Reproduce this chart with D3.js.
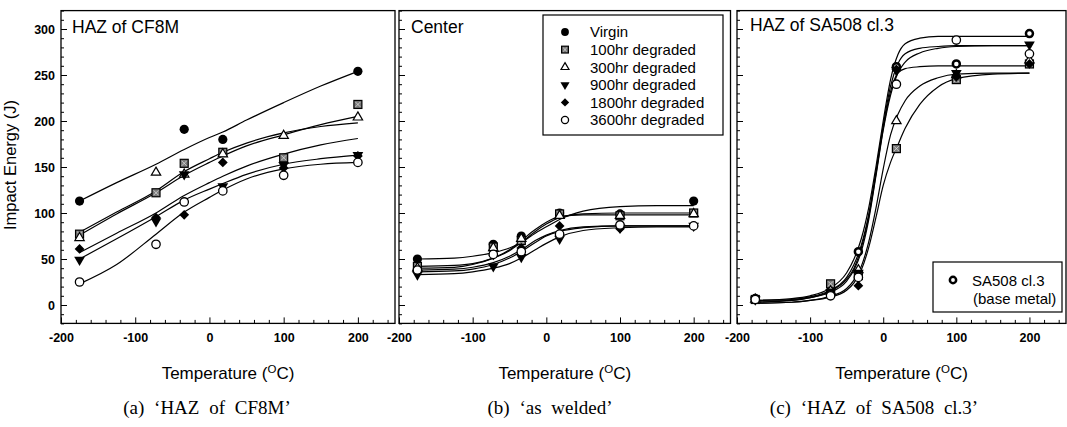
<!DOCTYPE html>
<html><head><meta charset="utf-8">
<script src="https://cdn.jsdelivr.net/npm/d3@7"></script>
<style>
body{margin:0;background:#fff;}
svg{display:block;}
text{font-family:"Liberation Sans",Arial,sans-serif;fill:#000;}
.cap{font-family:"Liberation Serif","Times New Roman",serif;}
</style>
</head><body>
<svg id="c" width="1067" height="427"></svg>
<script>
// ---------- data ----------
const seriesNames = ["Virgin","100hr degraded","300hr degraded","900hr degraded","1800hr degraded","3600hr degraded"];
const seriesMarkers = ["filledCircle","hatchSquare","openTriangle","filledDownTriangle","filledDiamond","openCircle"];
const baseMetalName = ["SA508 cl.3","(base metal)"];
const baseMarkers = ["dotCircle","hatchSquare","openTriangle","filledDownTriangle","filledDiamond","openCircle"];
const testTemps = [-175,-72,-34,18,100,200];
const xTicks = [-200,-100,0,100,200];
const yTicks = [0,50,100,150,200,250,300];
const panelTitles = ["HAZ of CF8M","Center","HAZ of SA508 cl.3"];
const captions = ["(a) \u2018HAZ of CF8M\u2019","(b) \u2018as welded\u2019","(c) \u2018HAZ of SA508 cl.3\u2019"];

// Panel (a) measured points (rows follow seriesNames)
const aPoints = [
  [113,null,191,180,null,254],
  [77,122,154,166,160,218],
  [73,144,142,164,184,204],
  [49,91,142,129,152,163],
  [61,95,98,155,149,162],
  [25,66,112,124,141,155]
];
// Panel (a) fitted curves
const aFitTemps = [-175,-125,-72,-34,0,18,50,100,150,200];
const aFits = [
  [113,133,153,169,182,188,201,220,238,254],
  [79,101,124,145,159,166,176,187,194,198],
  [76,99,122,141,155,162,173,185,196,205],
  [57,78,100,119,133,140,151,164,174,181],
  [50,72,96,114,126,132,142,153,159,163],
  [23,44,77,101,117,125,137,148,153,155]
];

// Panel (b)
const bPoints = [
  [50,66,75,100,99,113],
  [42,63,70,99,97,100],
  [40,62,72,97,97,99],
  [33,42,52,72,84,86],
  [36,54,62,86,83,86],
  [38,55,58,77,87,86]
];
const bFitTemps = [-175,-125,-100,-72,-50,-34,-15,0,18,50,100,150,200];
const bFits = [
  [50,51,53,57,62,68,78,85,93,102,107,108,108],
  [42,43,45,51,59,68,80,88,95,99,100,100,100],
  [40,41,44,51,60,70,82,90,96,98,98,98,98],
  [33,34,36,40,45,51,60,67,74,81,84,85,85],
  [38,39,41,46,53,60,70,76,81,85,86,86,86],
  [36,37,39,44,51,58,68,75,80,84,86,86,86]
];

// Panel (c)
const cPoints = [
  [7,15,58,259,262,295],
  [6,23,32,170,245,262],
  [6,15,38,200,250,266],
  [6,14,35,255,252,283],
  [6,13,21,256,248,262],
  [6,10,30,240,288,273]
];
const cFitTemps = [-175,-125,-100,-75,-50,-40,-30,-20,-10,0,10,20,30,50,75,100,150,200];
const cFits = [
  [5,7,10,17,35,50,72,105,150,200,245,272,284,290,292,292,292,292],
  [5,6,9,15,30,44,65,98,145,195,238,262,273,279,281,282,282,282],
  [3,5,8,13,26,38,58,92,140,190,228,252,264,274,279,281,282,282],
  [4,5,8,14,28,40,62,95,142,192,232,252,257,259,260,260,260,260],
  [2,3,5,9,18,27,42,68,105,148,185,207,222,238,247,251,252,252],
  [2,3,5,8,16,24,38,62,95,130,155,174,192,218,237,246,251,252]
];

// ---------- drawing ----------
const svg = d3.select("#c");
const y = d3.scaleLinear().domain([-20,320]).range([323.4,10.6]);
const xMinor = d3.range(-200,251,20).filter(v=>v%100!==0);
const yMinor = d3.range(-20,321,10).filter(v=>v%50!==0);
const plainNum = d=>String(d);

function marker(g,type,cx,cy,s){
  s = s||1;
  const m = g.append("g").attr("transform",`translate(${cx},${cy})`);
  if(type==="filledCircle"){
    m.append("circle").attr("r",4.6*s).attr("fill","#000");
  } else if(type==="openCircle"){
    m.append("circle").attr("r",4.2*s).attr("fill","#fff").attr("stroke","#000").attr("stroke-width",1.3);
  } else if(type==="dotCircle"){
    m.append("circle").attr("r",3.5*s).attr("fill","#fff").attr("stroke","#000").attr("stroke-width",2.5);
  } else if(type==="hatchSquare"){
    const h=4*s, k=1.6;
    m.append("rect").attr("x",-h).attr("y",-h).attr("width",2*h).attr("height",2*h)
      .attr("fill","#7a7a7a").attr("stroke","#000").attr("stroke-width",1.2);
    m.append("path").attr("d",`M${-h+k},${-h+k}L${h-k},${h-k}M${h-k},${-h+k}L${-h+k},${h-k}`)
      .attr("stroke","#dcdcdc").attr("stroke-width",0.8);
  } else if(type==="openTriangle"){
    m.append("path").attr("d",d3.symbol(d3.symbolTriangle,38*s*s)())
      .attr("fill","#fff").attr("stroke","#000").attr("stroke-width",1.2);
  } else if(type==="filledDownTriangle"){
    m.append("path").attr("d",d3.symbol(d3.symbolTriangle,50*s*s)())
      .attr("transform","rotate(180)").attr("fill","#000");
  } else if(type==="filledDiamond"){
    m.append("path").attr("d",d3.symbol(d3.symbolSquare,48*s*s)())
      .attr("transform","rotate(45)").attr("fill","#000");
  }
}

const panels = [
  {x0:61,x1:395,pts:aPoints,fitT:aFitTemps,fits:aFits,markers:seriesMarkers,yLabels:true,title:panelTitles[0],tx:72,ty:33,capX:207},
  {x0:399,x1:730.5,pts:bPoints,fitT:bFitTemps,fits:bFits,markers:seriesMarkers,yLabels:false,title:panelTitles[1],tx:411,ty:33,capX:550},
  {x0:737,x1:1066,pts:cPoints,fitT:cFitTemps,fits:cFits,markers:baseMarkers,yLabels:false,title:panelTitles[2],tx:750,ty:31,capX:874}
];

panels.forEach((p,pi)=>{
  const g = svg.append("g");
  const x = d3.scaleLinear().domain([-200,250]).range([p.x0,p.x1]);
  const yb = y.range()[0], yt = y.range()[1];

  // axes (ticks inward)
  const xa = g.append("g").attr("transform",`translate(0,${yb})`)
    .call(d3.axisBottom(x).tickValues(xTicks).tickSize(-6).tickSizeOuter(0).tickPadding(10).tickFormat(plainNum));
  xa.select(".domain").remove();
  xa.selectAll("text").style("font-size","12.5px").style("font-weight","bold");
  const xm = g.append("g").attr("transform",`translate(0,${yb})`)
    .call(d3.axisBottom(x).tickValues(xMinor).tickSize(-3.5).tickSizeOuter(0).tickFormat(""));
  xm.select(".domain").remove();

  const ya = g.append("g").attr("transform",`translate(${p.x0},0)`)
    .call(d3.axisLeft(y).tickValues(yTicks).tickSize(-6).tickSizeOuter(0).tickPadding(6)
      .tickFormat(p.yLabels ? plainNum : ""));
  ya.select(".domain").remove();
  ya.selectAll("text").style("font-size","12.5px").style("font-weight","bold");
  const ym = g.append("g").attr("transform",`translate(${p.x0},0)`)
    .call(d3.axisLeft(y).tickValues(yMinor).tickSize(-3).tickSizeOuter(0).tickFormat(""));
  ym.select(".domain").remove();
  g.selectAll(".tick line").attr("stroke","#000").attr("stroke-width",1);

  // frame
  g.append("rect").attr("x",p.x0).attr("y",yt).attr("width",p.x1-p.x0).attr("height",yb-yt)
    .attr("fill","none").attr("stroke","#000").attr("stroke-width",1.3);

  // fitted curves
  const line = d3.line().x(d=>x(d[0])).y(d=>y(d[1])).curve(d3.curveMonotoneX);
  p.fits.forEach(f=>{
    g.append("path").datum(p.fitT.map((t,i)=>[t,f[i]]))
      .attr("d",line).attr("fill","none").attr("stroke","#000").attr("stroke-width",1.2);
  });

  // points
  p.pts.forEach((row,si)=>{
    row.forEach((v,i)=>{
      if(v==null) return;
      marker(g,p.markers[si],x(testTemps[i]),y(v),1);
    });
  });

  // panel title
  g.append("text").attr("x",p.tx).attr("y",p.ty).style("font-size","17.5px").text(p.title);

  // x axis title
  const xt = g.append("text").attr("x",(p.x0+p.x1)/2).attr("y",379).attr("text-anchor","middle").style("font-size","17px");
  xt.append("tspan").text("Temperature (");
  xt.append("tspan").attr("dy",-6).style("font-size","11.5px").text("O");
  xt.append("tspan").attr("dy",6).text("C)");

  // caption
  svg.append("text").attr("class","cap").attr("x",p.capX).attr("y",414).attr("text-anchor","middle")
    .style("font-size","19px").style("word-spacing","5px").text(captions[pi]);
});

// y axis title
svg.append("text").attr("transform","translate(16,165) rotate(-90)").attr("text-anchor","middle")
  .style("font-size","16.5px").text("Impact Energy (J)");

// legend in panel (b)
const lg = svg.append("g");
lg.append("rect").attr("x",543).attr("y",15).attr("width",180).attr("height",120)
  .attr("fill","#fff").attr("stroke","#000").attr("stroke-width",1.2);
seriesNames.forEach((n,i)=>{
  const yy = 32 + i*17.6;
  marker(lg,seriesMarkers[i],565,yy,0.85);
  lg.append("text").attr("x",590).attr("y",yy+5.3).style("font-size","15px").text(n);
});

// legend in panel (c)
const lc = svg.append("g");
lc.append("rect").attr("x",933).attr("y",262).attr("width",129).attr("height",50)
  .attr("fill","#fff").attr("stroke","#000").attr("stroke-width",1.2);
marker(lc,"dotCircle",953,280,0.9);
lc.append("text").attr("x",972).attr("y",285.5).style("font-size","15px").text(baseMetalName[0]);
lc.append("text").attr("x",973).attr("y",304).style("font-size","15px").text(baseMetalName[1]);
</script>
</body></html>
